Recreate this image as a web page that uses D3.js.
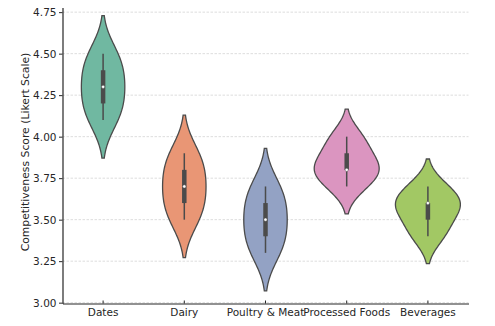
<!DOCTYPE html>
<html>
<head>
<meta charset="utf-8">
<script src="https://cdn.jsdelivr.net/npm/d3@7"></script>
<style>
  body { margin: 0; background: #fff; }
  svg { display: block; font-family: "DejaVu Sans", sans-serif; }
  .axis text { fill: #262626; font-size: 10.5px; font-family: "DejaVu Sans", sans-serif; }
  .axis .domain { stroke: #262626; stroke-width: 1.2; }
  .axis .tick line { stroke: #262626; stroke-width: 1; }
  .grid line { stroke: #d4d4d4; stroke-width: 0.8; stroke-dasharray: 2.5,1.5; }
  .axis-label { fill: #262626; font-size: 10.8px; }
</style>
</head>
<body>
<svg id="chart" width="495" height="326"></svg>
<script>
const categories = ["Dates", "Dairy", "Poultry & Meat", "Processed Foods", "Beverages"];
const dates     = [4.1, 4.2, 4.3, 4.4, 4.5];
const dairy     = [3.5, 3.6, 3.7, 3.8, 3.9];
const poultry   = [3.3, 3.4, 3.5, 3.6, 3.7];
const processed = [3.7, 3.8, 3.8, 3.9, 4.0];
const beverages = [3.4, 3.5, 3.6, 3.6, 3.7];
const yTicks = [3.00, 3.25, 3.50, 3.75, 4.00, 4.25, 4.50, 4.75];
const colors = ["#70b8a1", "#e99675", "#93a2c4", "#db95c0", "#a2c864"];

const series = [dates, dairy, poultry, processed, beverages];

const margin = {left: 62.5, right: 26.5, top: 7.5, bottom: 22.5},
    width = 495, height = 326,
    gray = "#4b4b4b";

const svg = d3.select("#chart");

const x = d3.scaleBand().domain(categories).range([margin.left, width - margin.right]);
const y = d3.scaleLinear().domain([2.995, 4.778]).range([height - margin.bottom, margin.top]);

// gaussian kde, scott's rule, seaborn cut=2
const kde = (values) => {
    const n = values.length,
        sd = d3.deviation(values),
        bw = sd * Math.pow(n, -1 / 5),
        lo = d3.min(values) - 2 * bw,
        hi = d3.max(values) + 2 * bw,
        grid = d3.range(100).map(i => lo + (hi - lo) * i / 99);
    return grid.map(v => [v, d3.mean(values, d => Math.exp(-0.5 * ((v - d) / bw) ** 2)) / (bw * Math.sqrt(2 * Math.PI))]);
};

const densities = series.map(kde);
const maxDensity = d3.max(densities, d => d3.max(d, p => p[1]));
const halfWidth = d3.scaleLinear().domain([0, maxDensity]).range([0, x.bandwidth() * 0.4]);

// grid
svg.append("g").attr("class", "grid")
    .selectAll("line").data(yTicks).join("line")
    .attr("x1", margin.left).attr("x2", width - margin.right)
    .attr("y1", d => y(d)).attr("y2", d => y(d));

// violins
const area = d3.area()
    .y(d => y(d[0]))
    .curve(d3.curveLinear);

const violins = svg.append("g").selectAll("g").data(categories).join("g")
    .attr("transform", d => `translate(${x(d) + x.bandwidth() / 2},0)`);

violins.append("path")
    .attr("d", (d, i) => area.x0(p => -halfWidth(p[1])).x1(p => halfWidth(p[1]))(densities[i]))
    .attr("fill", (d, i) => colors[i])
    .attr("stroke", gray)
    .attr("stroke-width", 1.3);

// inner box
violins.each(function(d, i) {
    const vals = series[i].slice().sort(d3.ascending),
        q1 = d3.quantile(vals, 0.25),
        med = d3.quantile(vals, 0.5),
        q3 = d3.quantile(vals, 0.75),
        lim = 1.5 * (q3 - q1),
        lo = d3.min(vals.filter(v => v >= q1 - lim)),
        hi = d3.max(vals.filter(v => v <= q3 + lim)),
        g = d3.select(this);
    g.append("line").attr("y1", y(lo)).attr("y2", y(hi))
        .attr("stroke", gray).attr("stroke-width", 1.5);
    g.append("line").attr("y1", y(q1)).attr("y2", y(q3))
        .attr("stroke", gray).attr("stroke-width", 4.5);
    g.append("circle").attr("cy", y(med)).attr("r", 1.6)
        .attr("fill", "#fff").attr("stroke", gray).attr("stroke-width", 0.4);
});

// axes
svg.append("g").attr("class", "axis axis-y")
    .attr("transform", `translate(${margin.left},0)`)
    .call(d3.axisLeft(y).tickValues(yTicks).tickFormat(d3.format(".2f"))
        .tickSizeInner(3.5).tickSizeOuter(0).tickPadding(2.5));

svg.append("g").attr("class", "axis axis-x")
    .attr("transform", `translate(0,${height - margin.bottom})`)
    .call(d3.axisBottom(x).tickSizeInner(-3).tickSizeOuter(0).tickPadding(5));

svg.select(".axis-x").selectAll(".tick line").attr("stroke", "#bbb");

svg.append("text")
    .attr("class", "axis-label")
    .attr("transform", `translate(29,152)rotate(-90)`)
    .attr("text-anchor", "middle")
    .text("Competitiveness Score (Likert Scale)");
</script>
</body>
</html>
